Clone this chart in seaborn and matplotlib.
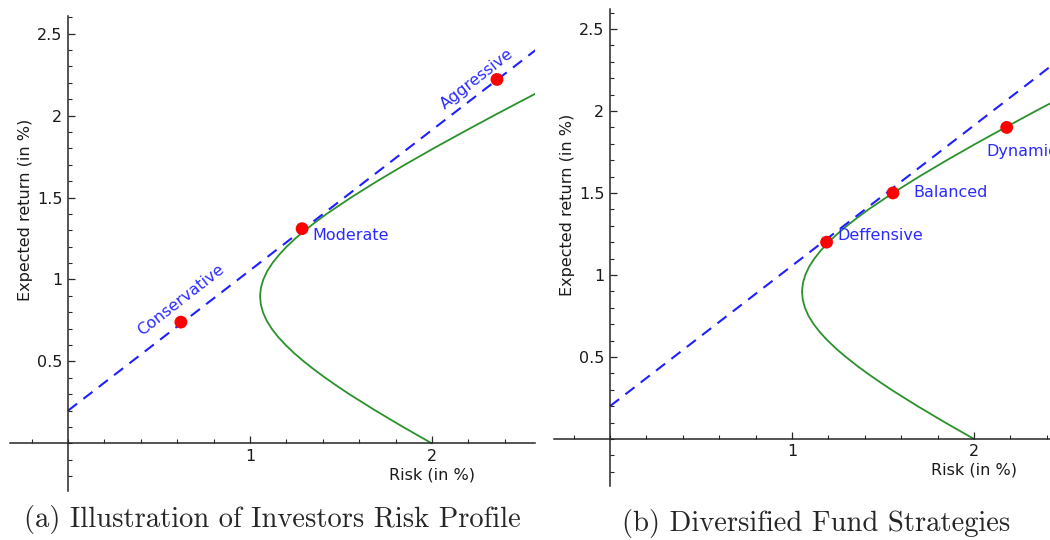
import seaborn as sns
import matplotlib.pyplot as plt
from matplotlib.ticker import FixedLocator, MultipleLocator, FormatStrFormatter

sns.set_style("white")
plt.rcParams['font.family'] = ['DejaVu Sans']

# minimum variance frontier (risk, expected return in %)
frontier_return = [0.0, 0.1, 0.2, 0.3, 0.35, 0.4, 0.45, 0.5, 0.55, 0.6, 0.65,
                   0.7, 0.75, 0.8, 0.85, 0.9, 0.95, 1.0, 1.05, 1.1, 1.15, 1.2,
                   1.25, 1.3, 1.35, 1.4, 1.5, 1.6, 1.7, 1.8, 1.9, 2.0, 2.1, 2.2]
frontier_risk = [2.000, 1.842, 1.690, 1.546, 1.479, 1.414, 1.353, 1.296, 1.243,
                 1.196, 1.154, 1.119, 1.091, 1.071, 1.059, 1.055, 1.060, 1.073,
                 1.094, 1.123, 1.159, 1.201, 1.249, 1.302, 1.360, 1.421, 1.555,
                 1.699, 1.851, 2.009, 2.173, 2.340, 2.511, 2.684]

# capital market line (dashed)
cml_risk = [0.0, 2.7]
cml_return = [0.2, 2.511]

# panel (a): investor profiles
profile_names = ["Conservative", "Moderate", "Aggressive"]
profile_risk = [0.62, 1.286, 2.357]
profile_return = [0.74, 1.31, 2.22]

# panel (b): fund strategies
fund_names = ["Deffensive", "Balanced", "Dynamic"]
fund_risk = [1.19, 1.555, 2.18]
fund_return = [1.20, 1.50, 1.90]

x_major = [1, 2]
y_major = [0.5, 1, 1.5, 2, 2.5]

axis_col = "#262626"
text_blue = "#2b2bff"
fs = 11.5

fig = plt.figure(figsize=(10.5, 5.4), dpi=100)
ax_a = fig.add_axes([10 / 1050, 49 / 540, 525 / 1050, 475 / 540])
ax_b = fig.add_axes([554 / 1050, 54 / 540, 496 / 1050, 477 / 540])


def draw_panel(ax, xlim, ylim, names, risk, ret, label_style):
    sns.lineplot(x=frontier_risk, y=frontier_return, sort=False, estimator=None,
                 color="#2a922a", lw=1.3, ax=ax)
    sns.lineplot(x=cml_risk, y=cml_return, sort=False, estimator=None,
                 color="#1f1fff", lw=1.5, linestyle=(0, (5.5, 3.8)), ax=ax)
    sns.scatterplot(x=risk, y=ret, s=85, color="red", edgecolor="none",
                    ax=ax, zorder=3)

    for name, x, y in zip(names, risk, ret):
        dx, dy, rot, ha = label_style[name]
        t = ax.annotate(name, (x, y), xytext=(dx, dy), textcoords="offset pixels",
                        ha=ha, va="center", rotation=rot, color=text_blue,
                        fontsize=fs)
        t.set_clip_on(True)

    ax.set_xlim(*xlim)
    ax.set_ylim(*ylim)

    for side in ["top", "right"]:
        ax.spines[side].set_visible(False)
    for side in ["left", "bottom"]:
        ax.spines[side].set_position("zero")
        ax.spines[side].set_color(axis_col)
        ax.spines[side].set_linewidth(1.1)

    ax.xaxis.set_major_locator(FixedLocator(x_major))
    ax.xaxis.set_minor_locator(MultipleLocator(0.2))
    ax.yaxis.set_major_locator(FixedLocator(y_major))
    ax.yaxis.set_minor_locator(MultipleLocator(0.1))
    ax.xaxis.set_major_formatter(FormatStrFormatter("%g"))
    ax.yaxis.set_major_formatter(FormatStrFormatter("%g"))
    ax.tick_params(which="both", bottom=True, left=True, top=False, right=False)
    ax.tick_params(which="major", direction="in", length=5, width=0.9,
                   color=axis_col, labelsize=fs, labelcolor="#1a1a1a", pad=4)
    ax.tick_params(which="minor", direction="in", length=3, width=0.8,
                   color=axis_col)

    ax.set_xlabel("Risk (in %)", fontsize=fs, color="#1a1a1a")
    ax.xaxis.set_label_coords(2.0, -0.19, transform=ax.transData)
    ax.xaxis.label.set_va("center")
    ax.set_ylabel("Expected return (in %)", fontsize=fs, color="#1a1a1a")
    ax.yaxis.set_label_coords(-0.236, 1.427, transform=ax.transData)
    ax.yaxis.label.set_va("center")
    ax.set_facecolor("white")


draw_panel(ax_a, (-0.319, 2.566), (-0.29, 2.607),
           profile_names, profile_risk, profile_return,
           {"Conservative": (0, 22, 38, "center"),
            "Moderate": (10, -7, 0, "left"),
            "Aggressive": (-20, 0, 38, "center")})
draw_panel(ax_b, (-0.308, 2.418), (-0.287, 2.622),
           fund_names, fund_risk, fund_return,
           {"Deffensive": (11, 7, 0, "left"),
            "Balanced": (20, 0, 0, "left"),
            "Dynamic": (-20, -24, 0, "left")})

fig.text(272 / 1050, 1 - 519 / 540, "(a) Illustration of Investors Risk Profile",
         family="cmr10", fontsize=20.6, ha="center", va="center")
fig.text(816 / 1050, 1 - 523 / 540, "(b) Diversified Fund Strategies",
         family="cmr10", fontsize=20.6, ha="center", va="center")

plt.savefig("out.png", dpi=100)
